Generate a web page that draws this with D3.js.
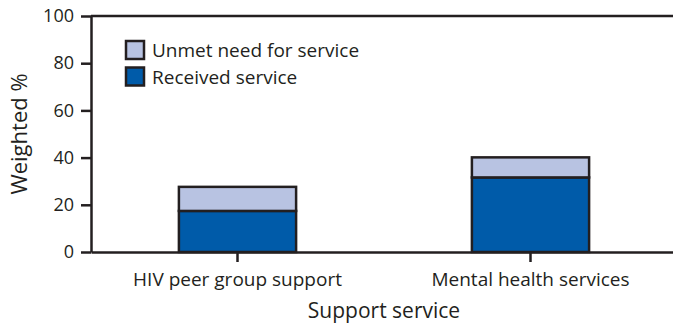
<!DOCTYPE html>
<html>
<head>
<meta charset="utf-8">
<script src="https://cdn.jsdelivr.net/npm/d3@7"></script>
<style>
  body { margin: 0; background: #fff; }
  svg { display: block; font-family: "Open Sans", sans-serif; }
</style>
</head>
<body>
<div id="root"></div>
<script>
// данные
const categories = ['HIV peer group support', 'Mental health services'];
const received = [17.4, 31.6];
const unmet = [10.2, 8.5];
const yTicks = [0, 20, 40, 60, 80, 100];
const seriesNames = ['Unmet need for service', 'Received service'];

// геометрия
const width = 673, height = 324;
const margin = { top: 16, left: 91, bottom: 72 };
const plotRight = 677; // правый край уходит за рамку
const ink = '#231f20';
const colors = { received: '#005ba9', unmet: '#b8c3e2' };

const svg = d3.select('#root').append('svg')
  .attr('width', width)
  .attr('height', height);

const x = d3.scaleBand()
  .domain(categories)
  .range([margin.left, plotRight])
  .paddingInner(0.6)
  .paddingOuter(0.3);

const y = d3.scaleLinear()
  .domain([0, 100])
  .range([height - margin.bottom, margin.top]);

// столбцы: снизу received, сверху unmet
const stack = categories.map((c, i) => ({ c, r: received[i], u: unmet[i] }));

const g = svg.append('g');
stack.forEach(d => {
  g.append('rect')
    .attr('x', x(d.c))
    .attr('y', y(d.r))
    .attr('width', x.bandwidth())
    .attr('height', y(0) - y(d.r))
    .attr('fill', colors.received)
    .attr('stroke', ink)
    .attr('stroke-width', 2.5);
  g.append('rect')
    .attr('x', x(d.c))
    .attr('y', y(d.r + d.u))
    .attr('width', x.bandwidth())
    .attr('height', y(d.r) - y(d.r + d.u))
    .attr('fill', colors.unmet)
    .attr('stroke', ink)
    .attr('stroke-width', 2.5);
});

// ось Y
const gy = svg.append('g')
  .attr('transform', `translate(${margin.left},0)`)
  .call(d3.axisLeft(y).tickValues(yTicks).tickSize(10).tickPadding(7).tickSizeOuter(0));
gy.select('.domain').attr('stroke', ink).attr('stroke-width', 2.5);
gy.selectAll('.tick line').attr('stroke', ink).attr('stroke-width', 2.5);
gy.selectAll('.tick text').attr('fill', ink).attr('font-size', 18).attr('font-family', '"Open Sans", sans-serif');

// ось X
const gx = svg.append('g')
  .attr('transform', `translate(0,${y(0)})`)
  .call(d3.axisBottom(x).tickSize(10).tickPadding(11).tickSizeOuter(0));
gx.select('.domain').attr('stroke', ink).attr('stroke-width', 2.5);
gx.selectAll('.tick line').attr('stroke', ink).attr('stroke-width', 2.5);
gx.selectAll('.tick text').attr('fill', ink).attr('font-size', 19).attr('font-family', '"Open Sans", sans-serif');

// верхняя линия рамки
svg.append('line')
  .attr('x1', margin.left).attr('x2', plotRight)
  .attr('y1', y(100)).attr('y2', y(100))
  .attr('stroke', ink).attr('stroke-width', 2.5);

// подписи осей
svg.append('text')
  .attr('transform', `translate(27,${(y(0) + y(100)) / 2}) rotate(-90)`)
  .attr('text-anchor', 'middle')
  .attr('font-size', 22)
  .attr('fill', ink)
  .text('Weighted %');

svg.append('text')
  .attr('x', (margin.left + plotRight) / 2)
  .attr('y', 318)
  .attr('text-anchor', 'middle')
  .attr('font-size', 21)
  .attr('fill', ink)
  .text('Support service');

// легенда
const legend = svg.append('g').attr('transform', 'translate(126,41)');
[colors.unmet, colors.received].forEach((col, i) => {
  legend.append('rect')
    .attr('x', 0).attr('y', i * 26.5)
    .attr('width', 18).attr('height', 18)
    .attr('fill', col)
    .attr('stroke', ink)
    .attr('stroke-width', 2.5);
  legend.append('text')
    .attr('x', 26).attr('y', i * 26.5 + 16)
    .attr('font-size', 19)
    .attr('fill', ink)
    .text(seriesNames[i]);
});
</script>
</body>
</html>
